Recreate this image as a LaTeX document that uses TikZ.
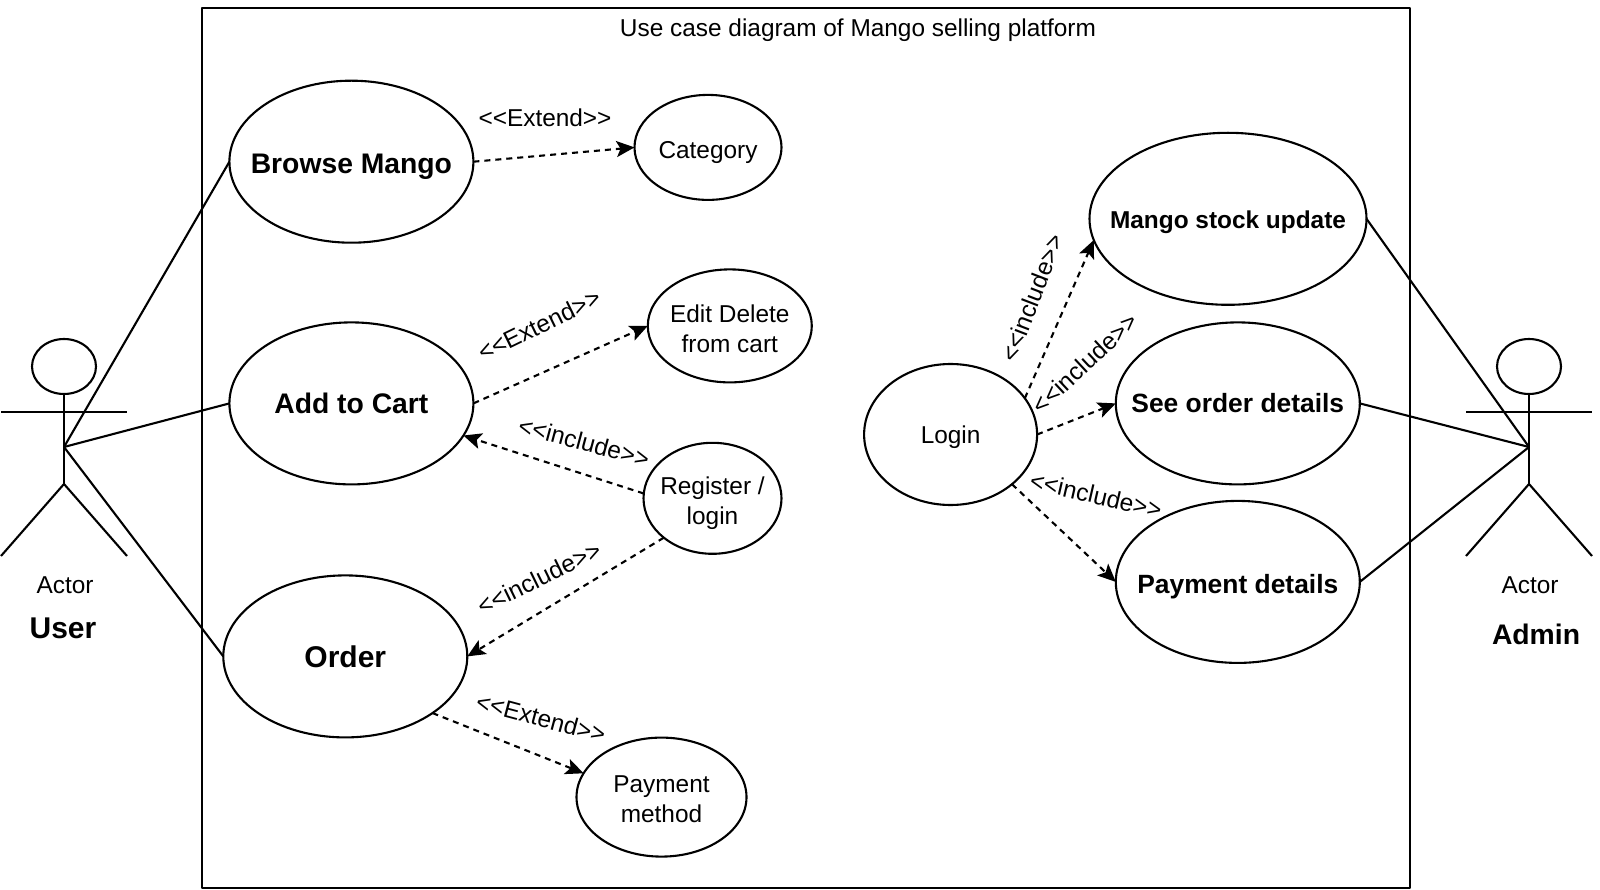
\documentclass[tikz,border=0pt]{standalone}
\usepackage{fontspec}
\setmainfont{Liberation Sans}
\usetikzlibrary{shapes.geometric}
\usetikzlibrary{arrows.meta}

\newcommand{\incl}{<{}<include>{}>}
\newcommand{\extd}{<{}<Extend>{}>}

\tikzset{
  usecase/.style = {draw, ellipse, inner xsep = -90, inner ysep = -30, outer sep = 0, align = center, text depth = 0pt, font = \fontsize{24.4}{30}\selectfont},
  bigcase/.style = {usecase, minimum width = 244, minimum height = 162, font = \fontsize{28.3}{34}\selectfont\bfseries},
  midcase/.style = {usecase, minimum width = 244, minimum height = 162, font = \fontsize{26.4}{32}\selectfont\bfseries},
  dep/.style = {-{Stealth[length = 18pt, width = 16pt, inset = 4pt]}, dash pattern = on 6pt off 5pt},
  tag/.style = {font = \fontsize{24.4}{30}\selectfont}
}

\begin{document}
\begin{tikzpicture}[x = 1pt, y = -1pt, line width = 2.1pt, line join = round]
  \useasboundingbox (0, 0) rectangle (1600, 890);

  \draw (202, 8) rectangle (1410, 888);
  \node[tag] (title) at (858, 30) {Use case diagram of Mango selling platform};

  % actors
  \foreach \name/\cx in {user/64, admin/1529} {
    \begin{scope}[shift = {(\cx, 0)}]
      \node[draw, ellipse, minimum width = 64, minimum height = 55, inner sep = 0] (\name head) at (0, 366.5) {};
      \coordinate (\name hip) at (0, 484);
      \coordinate (\name hub) at (0, 447);
      \draw (\name head.south) -- (\name hip);
      \draw (-63, 412) -- (63, 412);
      \draw (-63, 556) -- (\name hip) -- (63, 556);
      \node[tag] (\name actor) at (1, 585) {Actor};
    \end{scope}
  }
  \node[font = \fontsize{30}{34}\selectfont\bfseries] (user) at (63, 628) {User};
  \node[font = \fontsize{28.3}{34}\selectfont\bfseries] (admin) at (1536, 634) {Admin};

  % left use cases
  \node[bigcase, text height = 24.3pt] (browse) at (351.4, 161.7) {Browse Mango};
  \node[bigcase] (cart) at (351.4, 403.4) {Add to Cart};
  \node[bigcase, text height = 23pt, font = \fontsize{30}{34}\selectfont\bfseries] (order) at (345.3, 656.4) {Order};
  \node[usecase, minimum width = 147, minimum height = 105, text height = 21.5pt] (category) at (708, 147.4) {Category};
  \node[usecase, minimum width = 164, minimum height = 113, text height = 54pt] (edit) at (729.8, 325.9) {Edit Delete\\from cart};
  \node[usecase, minimum width = 138, minimum height = 111, text height = 52pt] (register) at (712.5, 498.3) {Register /\\login};
  \node[usecase, minimum width = 170, minimum height = 119, text height = 50pt] (method) at (661.5, 797.1) {Payment\\method};

  % right use cases
  \node[usecase, minimum width = 173, minimum height = 141] (login) at (950.6, 434.5) {Login};
  \node[midcase, minimum width = 277, minimum height = 172, text height = 19.5pt, font = \fontsize{24.4}{30}\selectfont\bfseries] (stock) at (1228, 218.8) {Mango stock update};
  \node[midcase] (details) at (1237.8, 403.4) {See order details};
  \node[midcase, text height = 23pt] (payment) at (1237.8, 581.9) {Payment details};

  \draw (userhub) -- (browse.west);
  \draw (userhub) -- (cart.west);
  \draw (userhub) -- (order.west);
  \draw (adminhub) -- (stock.east);
  \draw (adminhub) -- (details.east);
  \draw (adminhub) -- (payment.east);

  \draw[dep] (browse.east) -- (category.west);
  \draw[dep] (cart.east) -- (edit.west);
  \draw[dep] (register.176) -- (cart.-16);
  \draw[dep] (register.219) -- (order.east);
  \draw[dep] (order.-33) -- (method.163);
  \draw[dep] (login.26) -- (stock.189);
  \draw[dep] (login.east) -- (details.west);
  \draw[dep] (login.-39) -- (payment.west);

  \node[tag] (extA) at (545, 118) {\extd};
  \node[tag, rotate = 26] (extB) at (539, 325) {\extd};
  \node[tag, rotate = -15] (incA) at (584, 442) {\incl};
  \node[tag, rotate = 26] (incB) at (539, 578) {\incl};
  \node[tag, rotate = -15] (extC) at (541, 718) {\extd};
  \node[tag, rotate = 69] (incC) at (1032, 298) {\incl};
  \node[tag, rotate = 43] (incD) at (1085, 363) {\incl};
  \node[tag, rotate = -13] (incE) at (1096, 495) {\incl};
\end{tikzpicture}
\end{document}
